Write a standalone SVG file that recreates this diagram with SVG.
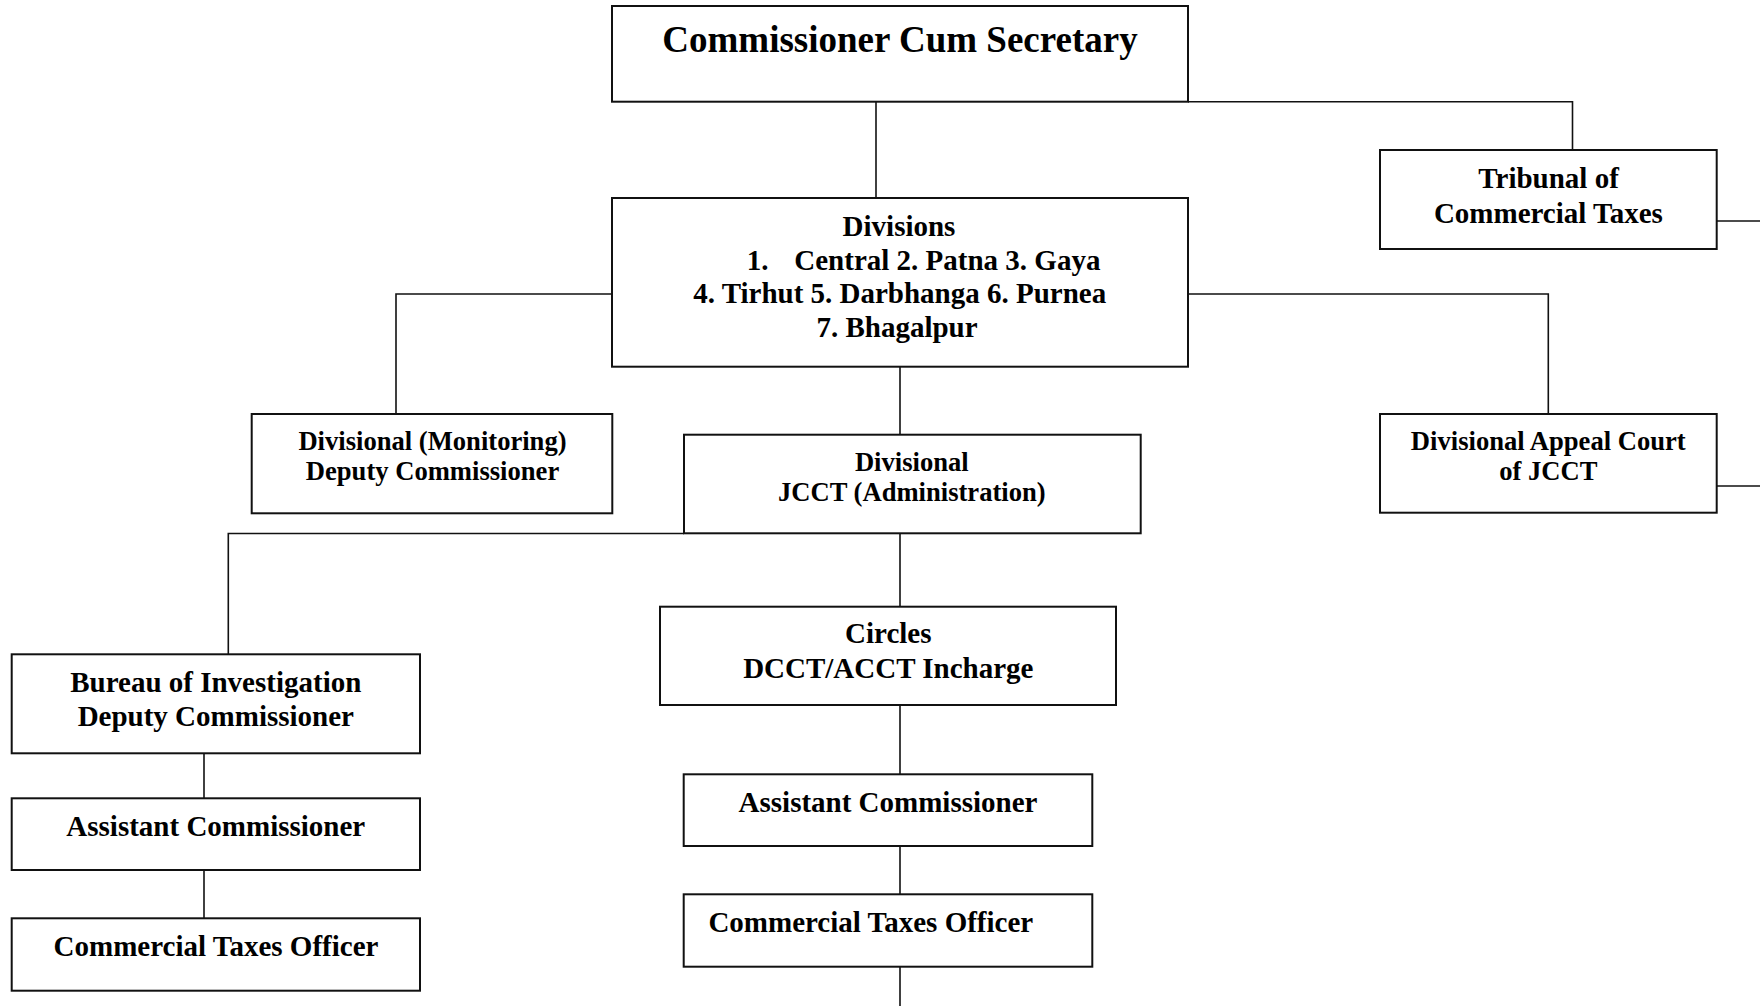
<svg xmlns="http://www.w3.org/2000/svg" width="1760" height="1006" viewBox="0 0 1760 1006">
<style>
.box{fill:#fff;stroke:#111;stroke-width:2}
.con{fill:none;stroke:#111;stroke-width:1.6}
text{font-family:"Liberation Serif","Times New Roman",serif;font-weight:bold;fill:#000}
.c{text-anchor:middle}
.f29{font-size:29px}
.f26{font-size:26.6px}
.f37{font-size:37px}
</style>
<rect width="1760" height="1006" fill="#fff"/>
<g id="connectors">
<path class="con" d="M876 101.7V198"/>
<path class="con" d="M1188 101.7H1572.5V150"/>
<path class="con" d="M1716.7 221H1760"/>
<path class="con" d="M612 294H396V414"/>
<path class="con" d="M1188 294H1548.3V414"/>
<path class="con" d="M1716.7 486H1760"/>
<path class="con" d="M900 366.7V434.7"/>
<path class="con" d="M684 533.5H228.3V654.3"/>
<path class="con" d="M900 533.3V606.7"/>
<path class="con" d="M900 705V774.3"/>
<path class="con" d="M900 846V894.3"/>
<path class="con" d="M900 966.7V1006"/>
<path class="con" d="M204 753.3V798.3"/>
<path class="con" d="M204 870V918.3"/>
</g>
<g id="commissioner">
<rect class="box" x="612" y="6" width="576" height="95.7"/>
<text class="c f37" x="900" y="52">Commissioner Cum Secretary</text>
</g>
<g id="divisions">
<rect class="box" x="612" y="198" width="576" height="168.7"/>
<text class="c f29" x="899" y="236">Divisions</text>
<text class="f29" x="746.7" y="269.5">1.</text>
<text class="f29" x="794.3" y="269.5">Central 2. Patna 3. Gaya</text>
<text class="c f29" x="899.7" y="303">4. Tirhut 5. Darbhanga 6. Purnea</text>
<text class="c f29" x="897" y="336.5">7. Bhagalpur</text>
</g>
<g id="tribunal">
<rect class="box" x="1380" y="150" width="336.7" height="99"/>
<text class="c f29" x="1548.6" y="188.3">Tribunal of</text>
<text class="c f29" x="1548.4" y="222.7">Commercial Taxes</text>
</g>
<g id="appeal">
<rect class="box" x="1380" y="414" width="336.7" height="98.7"/>
<text class="c f26" x="1548.3" y="450">Divisional Appeal Court</text>
<text class="c f26" x="1548.3" y="480">of JCCT</text>
</g>
<g id="monitoring">
<rect class="box" x="251.7" y="414" width="360.6" height="99.3"/>
<text class="c f26" x="432.5" y="450">Divisional (Monitoring)</text>
<text class="c f26" x="432.5" y="480">Deputy Commissioner</text>
</g>
<g id="jcct">
<rect class="box" x="684" y="434.7" width="456.7" height="98.6"/>
<text class="c f26" x="911.8" y="470.7">Divisional</text>
<text class="c f26" x="911.8" y="501">JCCT (Administration)</text>
</g>
<g id="circles">
<rect class="box" x="660" y="606.7" width="456" height="98.3"/>
<text class="c f29" x="888.3" y="643.3">Circles</text>
<text class="c f29" x="888.3" y="678.3">DCCT/ACCT Incharge</text>
</g>
<g id="asst-center">
<rect class="box" x="683.7" y="774.3" width="408.6" height="71.7"/>
<text class="c f29" x="888" y="811.7">Assistant Commissioner</text>
</g>
<g id="cto-center">
<rect class="box" x="683.7" y="894.3" width="408.6" height="72.4"/>
<text class="c f29" x="870.8" y="931.7">Commercial Taxes Officer</text>
</g>
<g id="bureau">
<rect class="box" x="11.7" y="654.3" width="408.3" height="99"/>
<text class="c f29" x="215.8" y="691.7">Bureau of Investigation</text>
<text class="c f29" x="215.8" y="726">Deputy Commissioner</text>
</g>
<g id="asst-left">
<rect class="box" x="11.7" y="798.3" width="408.3" height="71.7"/>
<text class="c f29" x="215.8" y="836">Assistant Commissioner</text>
</g>
<g id="cto-left">
<rect class="box" x="11.7" y="918.3" width="408.3" height="72.4"/>
<text class="c f29" x="216" y="956">Commercial Taxes Officer</text>
</g>
</svg>
